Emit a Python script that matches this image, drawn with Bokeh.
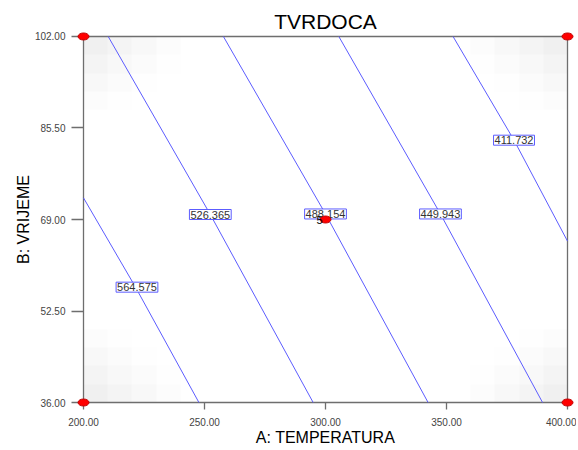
import numpy as np
from bokeh.plotting import figure
from bokeh.models import Range1d, FixedTicker, Label
from bokeh.embed import file_html
from bokeh.resources import INLINE

# ---- data ----
title_text = "TVRDOCA"
x_label = "A: TEMPERATURA"
y_label = "B: VRIJEME"

x_ticks = [200, 250, 300, 350, 400]
x_tick_labels = ["200.00", "250.00", "300.00", "350.00", "400.00"]
y_ticks = [36, 52.5, 69, 85.5, 102]
y_tick_labels = ["36.00", "52.50", "69.00", "85.50", "102.00"]

contour_levels = ["564.575", "526.365", "488.154", "449.943", "411.732"]
contour_xs = [[200.0, 221.5, 247.7],
              [210.2, 252.4, 294.9],
              [257.8, 300.0, 342.4],
              [305.5, 347.5, 389.7],
              [352.7, 377.9, 400.0]]
contour_ys = [[72.9, 56.8, 36.0],
              [102.0, 69.9, 36.0],
              [102.0, 70.0, 36.0],
              [102.0, 70.0, 36.0],
              [102.0, 83.3, 65.1]]
label_x = [222.1, 252.4, 300.0, 347.5, 377.9]
label_y = [56.8, 69.9, 70.0, 70.0, 83.3]

design_x = [200, 400, 200, 400, 300]
design_y = [36, 36, 102, 102, 69]
center_count = "5"

# light grey shading near the corners (grey level per block, corner outward)
corner_shade = [[240, 244, 248, 252],
                [244, 248, 251, 254],
                [248, 251, 254, 255],
                [252, 254, 255, 255]]

# ---- styling / layout ----
W, H = 576, 448
ML, MR, MT, MB = 77, 3, 32, 40
PADX, PADY = 6, 4            # px of room round the data box so the corner dots are not cut
FW, FH = W - ML - MR, H - MT - MB
line_col = "#5c5cff"
axis_col = "#6e6e6e"
tick_col = "#444444"
font = "Liberation Sans"

x0, x1 = x_ticks[0], x_ticks[-1]
y0, y1 = y_ticks[0], y_ticks[-1]
dxp = PADX * (x1 - x0) / (FW - 2 * PADX)
dyp = PADY * (y1 - y0) / (FH - 2 * PADY)

p = figure(width=W, height=H, output_backend="svg", toolbar_location=None,
           x_range=Range1d(x0 - dxp, x1 + dxp), y_range=Range1d(y0 - dyp, y1 + dyp),
           min_border_left=ML, min_border_right=MR, min_border_top=MT, min_border_bottom=MB)
p.xgrid.visible = False
p.ygrid.visible = False
p.background_fill_color = "white"
p.border_fill_color = "white"
p.outline_line_color = None

p.title.text = title_text
p.title.align = "center"
p.title.text_font = font
p.title.text_font_size = "21px"
p.title.text_font_style = "normal"
p.title.text_color = "black"
p.title.standoff = 0

# shading image
n = 20
grey = np.full((n, n), 255, dtype=np.uint8)
k = len(corner_shade)
for i in range(k):
    for j in range(k):
        g = corner_shade[i][j]
        grey[i, j] = g
        grey[i, n - 1 - j] = g
        grey[n - 1 - i, j] = g
        grey[n - 1 - i, n - 1 - j] = g
img = np.empty((n, n), dtype=np.uint32)
view = img.view(dtype=np.uint8).reshape((n, n, 4))
view[:, :, 0] = grey
view[:, :, 1] = grey
view[:, :, 2] = grey
view[:, :, 3] = 255
p.image_rgba(image=[img], x=x0, y=y0, dw=x1 - x0, dh=y1 - y0)

# frame of the data box
p.segment(x0=[x0, x0, x0, x1], y0=[y0, y1, y0, y0],
          x1=[x1, x1, x0, x1], y1=[y0, y1, y1, y1],
          line_color=axis_col, line_width=1.3)

# contour lines
p.multi_line(xs=contour_xs, ys=contour_ys, line_color=line_col, line_width=1)

# contour labels
for lx, ly, txt in zip(label_x, label_y, contour_levels):
    p.add_layout(Label(x=lx, y=ly, text=txt, text_align="center", text_baseline="middle",
                       text_font=font, text_font_size="11px", text_color="#333333",
                       background_fill_color="white", border_line_color=line_col,
                       border_line_width=1, padding=1))

# design points (red ellipses)
pts = p.ellipse(x=design_x, y=design_y, width=11, height=7,
                width_units="screen", height_units="screen",
                fill_color="#ff0000", line_color="#c00000", line_width=1)
pts.level = "overlay"

p.add_layout(Label(x=design_x[-1], y=design_y[-1], text=center_count, x_offset=-3,
                   text_align="right", text_baseline="middle", text_font=font,
                   text_font_size="11px", text_color="black", level="overlay"))

# axes (their own line hidden; ticks reach the data box edge)
for ax in (p.xaxis[0], p.yaxis[0]):
    ax.axis_line_color = None
    ax.major_tick_line_color = axis_col
    ax.major_tick_line_width = 1.3
    ax.minor_tick_line_color = None
    ax.major_label_text_font = font
    ax.major_label_text_font_size = "10px"
    ax.major_label_text_color = tick_col
    ax.axis_label_text_font = font
    ax.axis_label_text_font_size = "16px"
    ax.axis_label_text_font_style = "normal"
    ax.axis_label_text_color = "black"

xa = p.xaxis[0]
xa.ticker = FixedTicker(ticks=x_ticks)
xa.major_label_overrides = dict(zip(x_ticks, x_tick_labels))
xa.major_tick_in = PADY
xa.major_tick_out = 3
xa.major_label_standoff = 8
xa.axis_label = x_label
xa.axis_label_standoff = 0

ya = p.yaxis[0]
ya.ticker = FixedTicker(ticks=y_ticks)
ya.major_label_overrides = dict(zip(y_ticks, y_tick_labels))
ya.major_tick_in = PADX
ya.major_tick_out = 6
ya.major_label_standoff = 6
ya.axis_label = y_label
ya.axis_label_standoff = 0

open("out.html", "w").write(file_html(p, INLINE))
